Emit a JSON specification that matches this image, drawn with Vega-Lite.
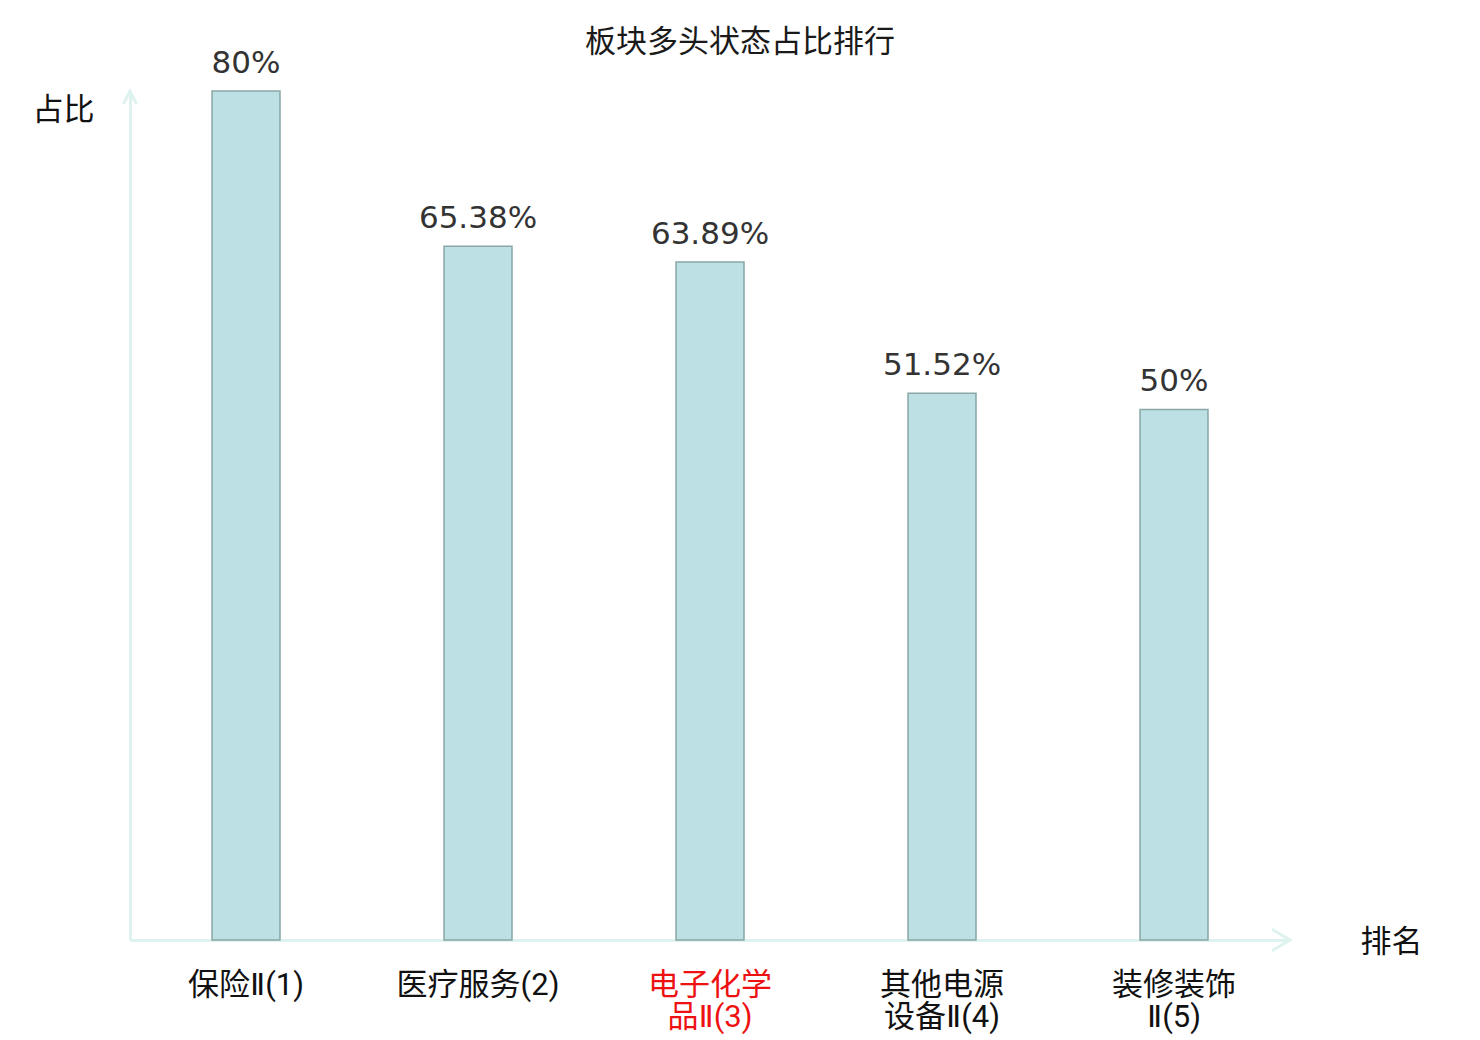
{
  "$schema": "https://vega.github.io/schema/vega-lite/v6.json",
  "autosize": {"type": "none"},
  "padding": {"left": 130, "top": 91, "right": 190, "bottom": 100},
  "width": 1160,
  "height": 849,
  "background": "white",
  "config": {"view": {"stroke": null}},
  "title": {
    "text": "板块多头状态占比排行",
    "font": "Noto Sans CJK SC",
    "fontSize": 31,
    "fontWeight": "normal",
    "color": "#1a1a1a",
    "anchor": "middle",
    "frame": "group",
    "dx": 30,
    "offset": -42,
    "baseline": "bottom"
  },
  "data": {
    "values": [
      {"name": "保险Ⅱ(1)", "value": 0.8},
      {"name": "医疗服务(2)", "value": 0.6538},
      {"name": "电子化学品Ⅱ(3)", "value": 0.6389},
      {"name": "其他电源设备Ⅱ(4)", "value": 0.5152},
      {"name": "装修装饰Ⅱ(5)", "value": 0.5}
    ]
  },
  "layer": [
    {
      "mark": {"type": "bar", "width": {"band": 0.293}, "fill": "#bce0e3", "stroke": "#8aa6a6", "strokeWidth": 1.5},
      "encoding": {
        "x": {
          "field": "name", "type": "nominal", "sort": null,
          "scale": {"paddingInner": 0, "paddingOuter": 0},
          "axis": {
            "title": "排名",
            "titleFont": "Noto Sans CJK SC",
            "titleFontSize": 31,
            "titleFontWeight": "normal",
            "titleColor": "#111",
            "titleAngle": 0,
            "titleX": 1261,
            "titleY": 2,
            "titleAlign": "center",
            "titleBaseline": "middle",
            "labelAngle": 0,
            "labelFont": "Roboto, DejaVu Sans, Noto Sans CJK SC",
            "labelFontSize": 31,
            "labelColor": {"condition": {"test": "datum.value === '电子化学品Ⅱ(3)'", "value": "#ee1111"}, "value": "#111111"},
            "labelBaseline": "top",
            "labelPadding": 30,
            "labelLineHeight": 32,
            "labelLimit": 400,
            "labelExpr": "length(datum.label) > 7 ? [substring(datum.label, 0, 4), substring(datum.label, 4)] : datum.label",
            "ticks": false,
            "domainColor": "#def2f0",
            "domainWidth": 3
          }
        },
        "y": {
          "field": "value", "type": "quantitative",
          "scale": {"domain": [0, 0.8], "nice": false},
          "axis": {
            "title": "占比",
            "titleFont": "Noto Sans CJK SC",
            "titleFontSize": 31,
            "titleFontWeight": "normal",
            "titleColor": "#111",
            "titleAngle": 0,
            "titleX": -67,
            "titleY": 19,
            "titleAlign": "center",
            "titleBaseline": "middle",
            "labels": false,
            "ticks": false,
            "grid": false,
            "domainColor": "#def2f0",
            "domainWidth": 3
          }
        }
      }
    },
    {
      "mark": {"type": "text", "dy": -18, "baseline": "alphabetic", "font": "DejaVu Sans", "fontSize": 31, "color": "#333333"},
      "encoding": {
        "x": {"field": "name", "type": "nominal", "sort": null},
        "y": {"field": "value", "type": "quantitative"},
        "text": {"field": "value", "type": "quantitative", "format": ".2~%"}
      }
    },
    {
      "data": {"values": [{"axis": "x"}]},
      "mark": {"type": "point", "shape": "M-1,-0.6L0,0L-1,0.6", "filled": false, "stroke": "#def2f0", "strokeWidth": 3, "size": 1296, "opacity": 1},
      "encoding": {"x": {"value": "width"}, "y": {"value": "height"}}
    },
    {
      "data": {"values": [{"axis": "y"}]},
      "mark": {"type": "point", "shape": "M-0.5,1L0,0L0.5,1", "filled": false, "stroke": "#def2f0", "strokeWidth": 3, "size": 676, "opacity": 1},
      "encoding": {"x": {"value": 0}, "y": {"value": 0}}
    }
  ]
}
